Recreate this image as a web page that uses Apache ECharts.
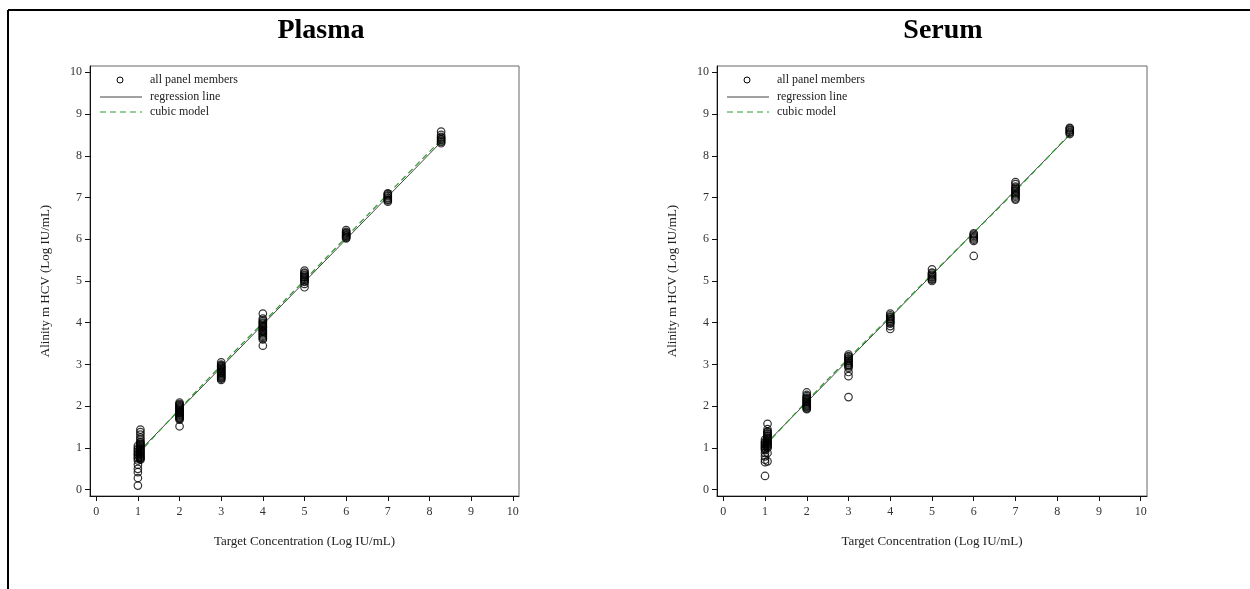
<!DOCTYPE html>
<html>
<head>
<meta charset="utf-8">
<script src="https://cdn.jsdelivr.net/npm/echarts@6/dist/echarts.min.js"></script>
<style>
  html, body { margin: 0; padding: 0; background: #fff; }
  #chart { width: 1250px; height: 589px; }
</style>
</head>
<body>
<div id="chart"></div>
<script>
(function(){
    // tick labels (both axes, both panels)
    var ticks = [0, 1, 2, 3, 4, 5, 6, 7, 8, 9, 10];
    var panelTitles = ['Plasma', 'Serum'];
    var xName = 'Target Concentration (Log IU/mL)';
    var yName = 'Alinity m HCV (Log IU/mL)';
    var legendNames = ['all panel members', 'regression line', 'cubic model'];

    // Plasma - observed values per target level
    var plasmaTargets = [1, 2, 3, 4, 5, 6, 7, 8.28];
    var plasmaAt1 = [0.1, 0.28, 0.42, 0.5, 0.6, 0.7, 0.75, 0.78, 0.82, 0.85, 0.88, 0.92, 0.96, 1.0, 1.05];
    var plasmaAt1b = [0.72, 0.74, 0.76, 0.78, 0.8, 0.83, 0.85, 0.88, 0.9, 0.93, 0.95, 0.98, 1.0, 1.03, 1.05,
        1.08, 1.1, 1.13, 1.15, 1.2, 1.25, 1.32, 1.38, 1.44];
    var plasmaAt2 = [1.52, 1.68, 1.7, 1.72, 1.74, 1.76, 1.78, 1.8, 1.82, 1.84, 1.86, 1.88, 1.9, 1.92, 1.94,
        1.96, 1.98, 2.0, 2.02, 2.04, 2.06, 2.09];
    var plasmaAt3 = [2.63, 2.66, 2.68, 2.7, 2.72, 2.74, 2.76, 2.78, 2.8, 2.82, 2.84, 2.86, 2.88, 2.9, 2.92,
        2.94, 2.96, 2.98, 3.0, 3.05];
    var plasmaAt4 = [3.45, 3.6, 3.63, 3.66, 3.69, 3.72, 3.75, 3.78, 3.8, 3.82, 3.85, 3.88, 3.9, 3.92, 3.95,
        3.98, 4.0, 4.03, 4.06, 4.1, 4.22];
    var plasmaAt5 = [4.85, 4.93, 4.98, 5.0, 5.03, 5.05, 5.08, 5.1, 5.13, 5.15, 5.18, 5.2, 5.25];
    var plasmaAt6 = [6.02, 6.04, 6.06, 6.08, 6.1, 6.12, 6.14, 6.16, 6.18, 6.22];
    var plasmaAt7 = [6.9, 6.93, 6.95, 6.98, 7.0, 7.03, 7.05, 7.08, 7.1];
    var plasmaAt8 = [8.3, 8.33, 8.35, 8.38, 8.4, 8.43, 8.45, 8.5, 8.58];
    var plasmaRegression = [[1, 0.89], [8.28, 8.33]];
    var plasmaCubic = [[1, 0.85], [2, 1.93], [3, 2.98], [4, 4.0], [5, 5.02], [6, 6.05], [7, 7.08], [8.28, 8.38]];

    // Serum - observed values per target level
    var serumTargets = [1, 2, 3, 4, 5, 6, 7, 8.3];
    var serumAt1 = [0.33, 0.66, 0.72, 0.8, 0.88, 0.95, 0.98, 1.0, 1.03, 1.05, 1.08, 1.1, 1.13, 1.15, 1.2];
    var serumAt1b = [0.68, 0.88, 1.0, 1.03, 1.05, 1.08, 1.1, 1.13, 1.15, 1.18, 1.2, 1.23, 1.25, 1.28, 1.3,
        1.33, 1.35, 1.38, 1.4, 1.45, 1.58];
    var serumAt2 = [1.93, 1.95, 1.97, 1.99, 2.01, 2.03, 2.05, 2.07, 2.09, 2.11, 2.13, 2.15, 2.17, 2.19, 2.21,
        2.24, 2.27, 2.33];
    var serumAt3 = [2.22, 2.72, 2.82, 2.92, 2.96, 2.98, 3.0, 3.03, 3.05, 3.08, 3.1, 3.13, 3.15, 3.18, 3.2, 3.24];
    var serumAt4 = [3.85, 3.92, 3.98, 4.0, 4.03, 4.05, 4.08, 4.1, 4.13, 4.15, 4.18, 4.22];
    var serumAt5 = [5.0, 5.03, 5.05, 5.08, 5.1, 5.13, 5.15, 5.18, 5.2, 5.28];
    var serumAt6 = [5.6, 5.96, 5.99, 6.02, 6.05, 6.08, 6.11, 6.14];
    var serumAt7 = [6.95, 6.98, 7.02, 7.05, 7.08, 7.11, 7.14, 7.17, 7.2, 7.23, 7.26, 7.32, 7.37];
    var serumAt8 = [8.52, 8.55, 8.57, 8.6, 8.62, 8.65, 8.67];
    var serumRegression = [[1, 1.08], [8.3, 8.5]];
    var serumCubic = [[1, 1.05], [2, 2.12], [3, 3.15], [4, 4.15], [5, 5.16], [6, 6.16], [7, 7.16], [8.3, 8.52]];

    var shift = 0.06;  // second column of circles at the lowest level

    function points(targets, groups, firstExtra) {
        var out = [];
        groups.forEach(function(vals, i) {
            vals.forEach(function(v) { out.push([targets[i], v]); });
        });
        firstExtra.forEach(function(v) { out.push([targets[0] + shift, v]); });
        return out;
    }

    var plasmaPts = points(plasmaTargets,
        [plasmaAt1, plasmaAt2, plasmaAt3, plasmaAt4, plasmaAt5, plasmaAt6, plasmaAt7, plasmaAt8], plasmaAt1b);
    var serumPts = points(serumTargets,
        [serumAt1, serumAt2, serumAt3, serumAt4, serumAt5, serumAt6, serumAt7, serumAt8], serumAt1b);

    var font = '"Liberation Serif", "Times New Roman", serif';
    var grids = [
        { left: 90, top: 66, width: 429, height: 430 },
        { left: 717, top: 66, width: 430, height: 430 }
    ];
    var titleX = [321, 943];

    function axis(i, isX) {
        return {
            type: 'value',
            gridIndex: i,
            min: -0.15,
            max: 10.15,
            name: isX ? xName : yName,
            nameLocation: 'middle',
            nameGap: isX ? 39 : 38,
            nameTextStyle: { fontFamily: font, fontSize: 13, color: '#222' },
            splitLine: { show: false },
            axisLine: { show: true, onZero: false, lineStyle: { color: '#111', width: 1 } },
            axisTick: { show: true, length: 5, customValues: ticks, lineStyle: { color: '#111' } },
            axisLabel: {
                customValues: ticks,
                fontFamily: font, fontSize: 12, color: '#333',
                margin: isX ? 10 : 8
            }
        };
    }

    var series = [];
    [[plasmaPts, plasmaRegression, plasmaCubic], [serumPts, serumRegression, serumCubic]].forEach(function(d, i) {
        series.push({
            type: 'line', xAxisIndex: i, yAxisIndex: i, data: d[1],
            symbol: 'none', silent: true, z: 2,
            lineStyle: { color: '#444', width: 1 }
        });
        series.push({
            type: 'line', xAxisIndex: i, yAxisIndex: i, data: d[2],
            symbol: 'none', smooth: true, silent: true, z: 3,
            lineStyle: { color: '#2f9a2f', width: 1.2, type: [6, 4] }
        });
        series.push({
            type: 'scatter', xAxisIndex: i, yAxisIndex: i, data: d[0],
            symbol: 'circle', symbolSize: 7.5, z: 4,
            itemStyle: { color: 'rgba(0,0,0,0)', borderColor: '#000', borderWidth: 1.2 }
        });
    });

    var graphic = [
        { type: 'line', shape: { x1: 8, y1: 10, x2: 1250, y2: 10 }, style: { stroke: '#000', lineWidth: 2 } },
        { type: 'line', shape: { x1: 8, y1: 10, x2: 8, y2: 589 }, style: { stroke: '#000', lineWidth: 2 } }
    ];
    grids.forEach(function(g, i) {
        var lx = g.left + 10;
        graphic.push({
            type: 'text', style: { text: panelTitles[i], x: titleX[i], y: 31, textAlign: 'center',
                textVerticalAlign: 'middle', font: 'bold 28px ' + font, fill: '#000' }
        });
        graphic.push({ type: 'circle', shape: { cx: lx + 20, cy: 80, r: 3 },
            style: { fill: 'none', stroke: '#000', lineWidth: 1 } });
        graphic.push({ type: 'line', shape: { x1: lx, y1: 97, x2: lx + 42, y2: 97 },
            style: { stroke: '#444', lineWidth: 1 } });
        graphic.push({ type: 'line', shape: { x1: lx, y1: 112, x2: lx + 42, y2: 112 },
            style: { stroke: '#2f9a2f', lineWidth: 1, lineDash: [6, 4] } });
        legendNames.forEach(function(n, k) {
            graphic.push({
                type: 'text', style: { text: n, x: lx + 50, y: [80, 97, 112][k], textVerticalAlign: 'middle',
                    font: '12px ' + font, fill: '#222' }
            });
        });
    });

    var chart = echarts.init(document.getElementById('chart'));
    chart.setOption({
        animation: false,
        backgroundColor: '#fff',
        grid: grids.map(function(g) {
            return { left: g.left, top: g.top, width: g.width, height: g.height,
                show: true, borderColor: '#666', borderWidth: 1 };
        }),
        xAxis: [axis(0, true), axis(1, true)],
        yAxis: [axis(0, false), axis(1, false)],
        series: series,
        graphic: graphic
    });
})();
</script>
</body>
</html>
